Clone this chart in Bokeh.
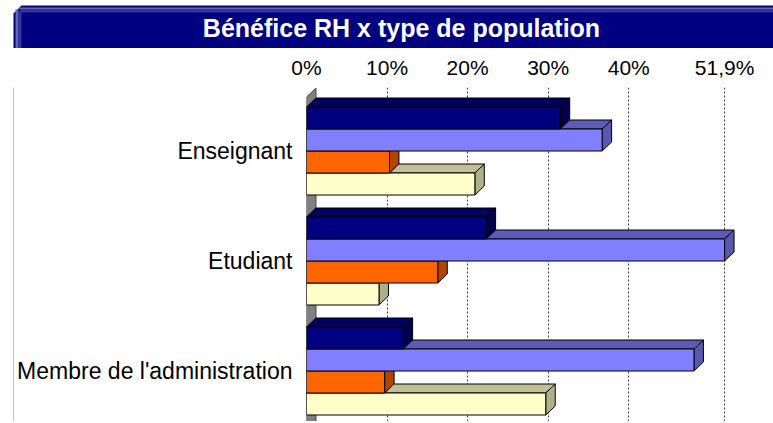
from bokeh.plotting import figure
from bokeh.models import Range1d, FixedTicker
from bokeh.layouts import column, row
from bokeh.core.properties import value
from bokeh.embed import file_html
from bokeh.resources import INLINE

# ---- data ----
categories = ["Enseignant", "Etudiant", "Membre de l'administration"]
series_names = ["Série 1", "Série 2", "Série 3", "Série 4"]
values_s1 = [31.5, 22.3, 12.0]
values_s2 = [36.7, 51.9, 48.1]
values_s3 = [10.3, 16.3, 9.7]
values_s4 = [20.9, 9.0, 29.7]
tick_values = [0, 10, 20, 30, 40, 51.9]
tick_labels = ["0%", "10%", "20%", "30%", "40%", "51,9%"]
title_text = "Bénéfice RH x type de population"

# ---- styles ----
front_colors = ["#000080", "#8080ff", "#ff6600", "#ffffcc"]
top_colors = ["#000060", "#5c5cb8", "#bf4c00", "#c0c096"]
side_colors = ["#00004c", "#5858b0", "#b04600", "#b0b088"]
FONT = "Liberation Sans"
TOTAL_W, TOTAL_H = 773, 423
TITLE_H = 48
STRIP_W = 14
BOTTOM_H = 2
MAIN_W = TOTAL_W - STRIP_W
MAIN_H = TOTAL_H - TITLE_H - BOTTOM_H


def deco_fig(w, h):
    f = figure(width=w, height=h, x_range=Range1d(0, w), y_range=Range1d(h, 0),
               x_axis_type=None, y_axis_type=None, output_backend="svg",
               toolbar_location=None, min_border=0)
    f.outline_line_color = None
    f.background_fill_color = "white"
    f.border_fill_color = "white"
    return f


# ---- title bar ----
tf = deco_fig(TOTAL_W, TITLE_H)
tf.patch([13, 13, 15, 17, 19, 21, TOTAL_W, TOTAL_W],
         [TITLE_H, 13, 11, 9, 7, 5, 5, TITLE_H],
         fill_color="#000080", line_color=None)
tf.quad(left=[19, 15], right=[TOTAL_W, 18], top=[7, 9], bottom=[9, TITLE_H],
        fill_color="#6464b4", line_color=None)
tf.quad(left=[20, 18], right=[TOTAL_W, 21], top=[9, 11], bottom=[12, TITLE_H],
        fill_color="#34349c", line_color=None)
tf.text(x=[401], y=[27], text=[title_text], text_color="white",
        text_font=value(FONT), text_font_style="bold", text_font_size="25px",
        text_align="center", text_baseline="middle")

# ---- left strip ----
sf = deco_fig(STRIP_W, MAIN_H)
sf.quad(left=[13], right=[14], top=[0], bottom=[MAIN_H], fill_color="#808080", line_color=None)

# ---- bottom line ----
bf = deco_fig(TOTAL_W, BOTTOM_H)
bf.quad(left=[13, 14], right=[14, TOTAL_W], top=[0, 0], bottom=[BOTTOM_H, BOTTOM_H],
        fill_color=["#808080", "#d4d4d4"], line_color=None)

# ---- main chart ----
PX_PER_X = 8.09
PX_PER_GROUP = 110.0
FRAME_LEFT = 304 - STRIP_W
FRAME_TOP = 87 - TITLE_H
GROUP0_CY = 150.5 - TITLE_H
X_END = (MAIN_W - FRAME_LEFT) / PX_PER_X
Y_TOP = (FRAME_TOP - GROUP0_CY) / PX_PER_GROUP
Y_BOTTOM = (MAIN_H - GROUP0_CY) / PX_PER_GROUP
BAR_H = 0.2
DX = 9.5 / PX_PER_X
DY = 9.0 / PX_PER_GROUP

p = figure(width=MAIN_W, height=MAIN_H,
           x_range=Range1d(0, X_END), y_range=Range1d(Y_BOTTOM, Y_TOP),
           x_axis_location="above", output_backend="svg", toolbar_location=None,
           min_border_left=FRAME_LEFT, min_border_top=FRAME_TOP,
           min_border_right=0, min_border_bottom=0)
p.outline_line_color = None
p.background_fill_color = "white"
p.border_fill_color = "white"

xt = FixedTicker(ticks=tick_values)
p.xaxis.ticker = xt
p.xaxis.major_label_overrides = {v: l for v, l in zip(tick_values, tick_labels)}
p.xaxis.axis_line_color = None
p.xaxis.major_tick_line_color = None
p.xaxis.minor_tick_line_color = None
p.xaxis.major_label_standoff = 3
p.xaxis.major_label_text_font = FONT
p.xaxis.major_label_text_font_size = "21px"
p.xaxis.major_label_text_color = "black"

yt = FixedTicker(ticks=list(range(len(categories))))
p.yaxis.ticker = yt
p.yaxis.major_label_overrides = {i: c for i, c in enumerate(categories)}
p.yaxis.axis_line_color = None
p.yaxis.major_tick_line_color = None
p.yaxis.minor_tick_line_color = None
p.yaxis.major_label_standoff = 8
p.yaxis.major_label_text_font = FONT
p.yaxis.major_label_text_font_size = "23px"
p.yaxis.major_label_text_color = "black"

p.xgrid.ticker = xt
p.xgrid.grid_line_color = "#404040"
p.xgrid.grid_line_dash = "2 2"
p.xgrid.grid_line_width = 1
p.ygrid.grid_line_color = None

# left wall (grey)
wall_top = -0.49
wall_bot = Y_BOTTOM + 0.3
p.patch([0, DX, DX, 0], [wall_top, wall_top - DY, wall_bot - DY, wall_bot],
        fill_color="#808080", line_color="#404040", line_width=1)

series = [values_s1, values_s2, values_s3, values_s4]
n_series = len(series)
for k in reversed(range(n_series)):
    vals = series[k]
    txs, tys, sxs, sys_, centers = [], [], [], [], []
    for i, v in enumerate(vals):
        y0 = i - BAR_H * n_series / 2 + BAR_H * k
        y1 = y0 + BAR_H
        centers.append((y0 + y1) / 2)
        txs.append([0, v, v + DX, DX])
        tys.append([y0, y0, y0 - DY, y0 - DY])
        sxs.append([v, v + DX, v + DX, v])
        sys_.append([y0, y0 - DY, y1 - DY, y1])
    p.patches(txs, tys, fill_color=top_colors[k], line_color="black", line_width=1)
    p.patches(sxs, sys_, fill_color=side_colors[k], line_color="black", line_width=1)
    p.hbar(y=centers, left=0, right=vals, height=BAR_H,
           fill_color=front_colors[k], line_color="black", line_width=1)

layout = column(tf, row(sf, p, spacing=0), bf, spacing=0)
open("out.html", "w").write(file_html(layout, INLINE))
